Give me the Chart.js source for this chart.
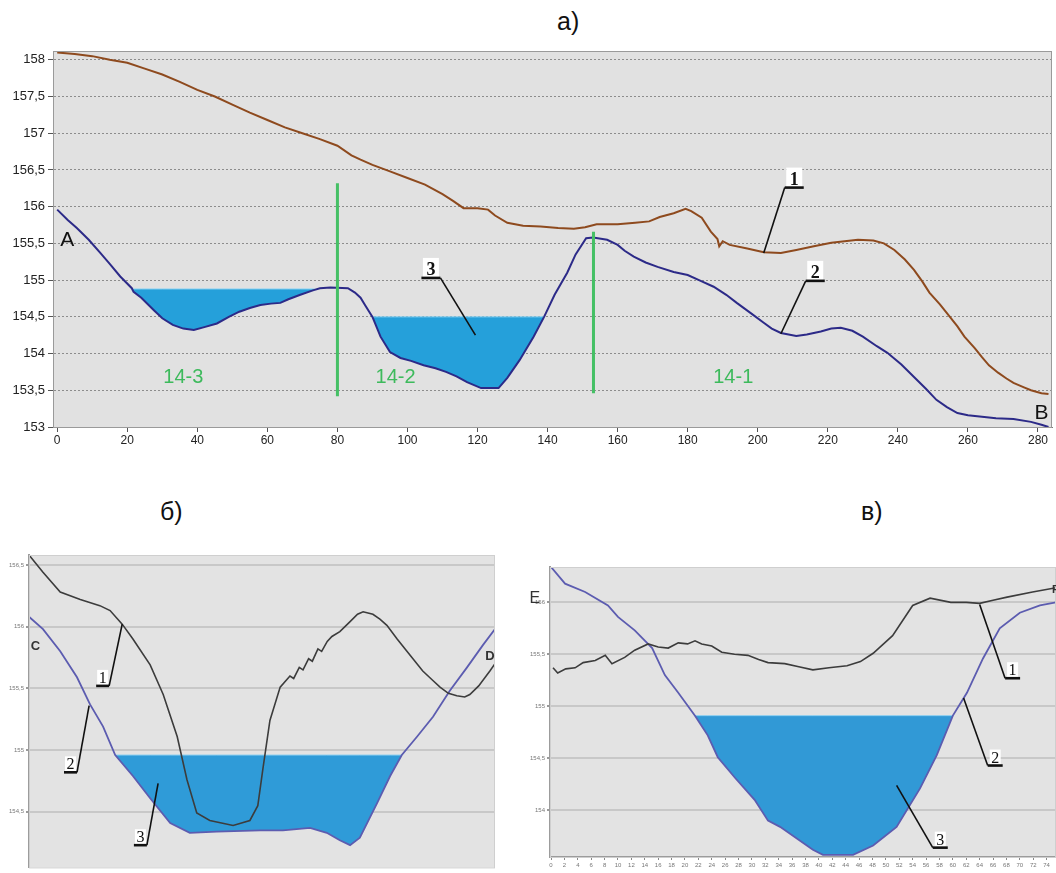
<!DOCTYPE html>
<html>
<head>
<meta charset="utf-8">
<script src="https://cdn.jsdelivr.net/npm/chart.js@4.4.1/dist/chart.umd.min.js"></script>
<style>
body { margin: 0; background: #fff; width: 1056px; height: 873px; overflow: hidden; position: relative; }
.box { position: absolute; }
.ttl { position: absolute; font-family: 'Liberation Sans Narrow', 'Liberation Sans', sans-serif; font-size: 25px; color: #111; }
</style>
</head>
<body>
<div class="ttl" style="left:557px;top:7px">а)</div>
<div class="ttl" style="left:160px;top:497px">б)</div>
<div class="ttl" style="left:861px;top:497px">в)</div>

<div class="box" style="left:0;top:40px;width:1056px;height:405px"><canvas id="chartA"></canvas></div>
<div class="box" style="left:0;top:540px;width:500px;height:333px"><canvas id="chartB"></canvas></div>
<div class="box" style="left:515px;top:555px;width:541px;height:318px"><canvas id="chartC"></canvas></div>

<script>
// ---- а) longitudinal profile ----
const a_xticks = [0, 20, 40, 60, 80, 100, 120, 140, 160, 180, 200, 220, 240, 260, 280];
const a_yticks = [153, 153.5, 154, 154.5, 155, 155.5, 156, 156.5, 157, 157.5, 158];

// line 1 (brown)
const a_line1_x = [0, 5, 10, 15, 20, 25, 30, 35, 40, 45, 50, 55, 60, 65, 70, 75, 80, 84, 86.6, 90, 95, 100, 105, 110, 113, 116, 120, 123, 125, 128.5, 133, 138, 143, 147.5, 150.7, 154, 160, 165, 169, 172, 176, 179.4, 181, 184, 186.6, 188.5, 189, 190, 192, 197, 201.7, 206.6, 211, 216, 221, 228.6, 233, 236, 239, 242, 244.6, 247, 249, 252, 254, 257, 259, 262, 264, 266, 268.6, 271, 273, 276, 278, 281, 283];
const a_line1_y = [158.1, 158.08, 158.05, 158.0, 157.96, 157.88, 157.8, 157.7, 157.59, 157.5, 157.39, 157.28, 157.18, 157.08, 157.0, 156.92, 156.83, 156.7, 156.64, 156.57, 156.48, 156.39, 156.3, 156.17, 156.08, 155.98, 155.98, 155.96, 155.88, 155.78, 155.74, 155.73, 155.71, 155.70, 155.72, 155.76, 155.76, 155.78, 155.80, 155.86, 155.91, 155.97, 155.94, 155.85, 155.66, 155.56, 155.46, 155.53, 155.48, 155.43, 155.38, 155.37, 155.41, 155.46, 155.51, 155.55, 155.54, 155.5, 155.41, 155.28, 155.14, 154.98, 154.83, 154.67, 154.55, 154.37, 154.23, 154.07, 153.95, 153.84, 153.74, 153.66, 153.6, 153.54, 153.5, 153.46, 153.45];

// line 2 (blue)
const a_line2_x = [0, 3, 5.6, 9, 12.3, 15, 18, 21.3, 21.8, 24, 27.6, 30, 33, 36, 39, 42, 45.6, 49, 52, 55, 58, 61, 63.7, 66, 69.4, 73, 75, 78, 83, 85, 86.6, 88, 90, 92.3, 95, 98, 101, 104.6, 108, 111, 114, 117, 121, 126, 128.5, 132, 136, 139, 142, 145.6, 148, 151, 153, 157, 160, 162, 164.6, 168, 171.4, 176, 180, 183.7, 187.4, 191, 194, 198, 201.7, 204, 206.6, 211, 214, 218, 221, 223.7, 227, 230, 234, 237, 241, 244.6, 248, 251, 254, 257, 260, 264, 268, 273, 278, 281, 283];
const a_line2_y = [155.96, 155.82, 155.71, 155.55, 155.37, 155.22, 155.05, 154.89, 154.84, 154.76, 154.59, 154.48, 154.39, 154.34, 154.32, 154.36, 154.41, 154.5, 154.57, 154.62, 154.66, 154.68, 154.69, 154.74, 154.8, 154.86, 154.89, 154.9, 154.89, 154.83, 154.76, 154.65, 154.5, 154.23, 154.02, 153.94, 153.9, 153.84, 153.8, 153.75, 153.69, 153.61, 153.53, 153.53, 153.67, 153.91, 154.23, 154.5, 154.8, 155.1, 155.35, 155.57, 155.58, 155.55, 155.48, 155.4, 155.32, 155.24, 155.18, 155.11, 155.07, 154.99, 154.91, 154.8, 154.69, 154.55, 154.42, 154.34, 154.28, 154.24, 154.26, 154.3, 154.34, 154.35, 154.31, 154.23, 154.1, 154.01, 153.85, 153.68, 153.52, 153.37, 153.27, 153.19, 153.16, 153.14, 153.12, 153.11, 153.07, 153.03, 153.0];

// water (3)
const a_pond_from = [21.3, 90];
const a_pond_to = [73.5, 139];
const a_pond_level = [154.88, 154.5];

// section borders
const a_section_x = [80, 153.1];
const a_section_top = [156.32, 155.66];
const a_section_bottom = [153.42, 153.46];
const a_section_names = ['14-3', '14-2', '14-1'];
const a_section_label_x = [36, 96.6, 193];
const a_section_label_y = [153.67, 153.67, 153.67];

// callouts: joint on the underline, curve point
const a_callout_text = ['1', '2', '3'];
const a_callout_x = [207.7, 213.7, 109.4];
const a_callout_y = [156.26, 154.99, 155.03];
const a_callout_tx = [201.7, 206.6, 119.4];
const a_callout_ty = [155.37, 154.27, 154.25];
const a_callout_dir = [1, 1, -1];

// ---- б) cross section C-D ----
const b_yticks = [154.5, 155, 155.5, 156, 156.5];
const b_line1_x = [0, 3, 6.7, 11, 15.2, 17.4, 20, 22.3, 26, 28.8, 31.8, 33.9, 36, 38.8, 43.8, 47.4, 49.1, 50.2, 51.7, 53.9, 56, 56.8, 58, 58.8, 60, 60.8, 62, 62.8, 64, 65, 66.7, 68.9, 70.5, 71.7, 73.8, 75.3, 76.8, 79, 81.1, 84.5, 86.5, 88.2, 90, 91.8, 93.5, 94.6, 96.5, 98.9, 100];
const b_line1_y = [156.58, 156.44, 156.28, 156.22, 156.17, 156.13, 156.02, 155.9, 155.69, 155.45, 155.11, 154.76, 154.49, 154.43, 154.39, 154.43, 154.55, 154.85, 155.24, 155.51, 155.6, 155.58, 155.67, 155.65, 155.74, 155.72, 155.82, 155.8, 155.88, 155.92, 155.96, 156.04, 156.1, 156.12, 156.1, 156.06, 156.01, 155.9, 155.8, 155.64, 155.57, 155.51, 155.46, 155.44, 155.43, 155.45, 155.52, 155.64, 155.7];
const b_line2_x = [0, 3, 6.7, 10.3, 13.1, 15.9, 18.5, 22.3, 26, 30.3, 34.5, 40.3, 49.6, 54.5, 60.3, 63.9, 66.7, 68.9, 71, 74.7, 77.5, 80, 83.3, 86.7, 90.3, 94, 97.4, 100];
const b_line2_y = [156.08, 155.98, 155.8, 155.59, 155.37, 155.19, 154.96, 154.79, 154.61, 154.41, 154.33, 154.34, 154.35, 154.35, 154.37, 154.33, 154.27, 154.23, 154.29, 154.57, 154.79, 154.96, 155.11, 155.27, 155.48, 155.67, 155.85, 155.98];
const b_pond_from = [18.5];
const b_pond_to = [80];
const b_pond_level = [154.96];
const b_callout_text = ['1', '2', '3'];
const b_callout_x = [17.2, 10.3, 25.3];
const b_callout_y = [155.52, 154.82, 154.23];
const b_callout_tx = [20, 12.9, 27.7];
const b_callout_ty = [156.02, 155.36, 154.73];
const b_callout_dir = [-1, -1, -1];

// ---- в) cross section E-F ----
const c_xticks = [0, 2, 4, 6, 8, 10, 12, 14, 16, 18, 20, 22, 24, 26, 28, 30, 32, 34, 36, 38, 40, 42, 44, 46, 48, 50, 52, 54, 56, 58, 60, 62, 64, 66, 68, 70, 72, 74];
const c_yticks = [154, 154.5, 155, 155.5, 156];
const c_line1_x = [0.3, 1, 2.2, 3.6, 4.8, 6.6, 8.1, 9.1, 11, 12.5, 14.5, 16, 17.5, 19, 20.4, 21.5, 22.5, 24, 25.5, 27.4, 29.4, 31, 32.4, 34.9, 37, 39.1, 41.5, 44.2, 46.2, 48.1, 51, 54, 56.6, 59.7, 62, 64, 66, 68.1, 71.9, 75.4];
const c_line1_y = [155.37, 155.32, 155.36, 155.37, 155.42, 155.44, 155.49, 155.41, 155.47, 155.54, 155.6, 155.57, 155.56, 155.61, 155.6, 155.63, 155.6, 155.58, 155.52, 155.5, 155.49, 155.45, 155.42, 155.41, 155.38, 155.35, 155.37, 155.39, 155.43, 155.51, 155.68, 155.97, 156.04, 156.0, 156.0, 155.99, 156.02, 156.05, 156.1, 156.14];
const c_line2_x = [0, 2.1, 5.1, 8.5, 10, 12.5, 15.1, 17, 19, 21.5, 23.4, 24.9, 27.5, 30.4, 32.4, 34.2, 39.1, 40.6, 45.1, 48.1, 51.6, 55.1, 57.6, 60, 62.1, 64.5, 67, 70, 73, 75.4];
const c_line2_y = [156.34, 156.18, 156.1, 155.97, 155.86, 155.73, 155.56, 155.3, 155.13, 154.91, 154.72, 154.51, 154.31, 154.1, 153.9, 153.84, 153.62, 153.57, 153.57, 153.66, 153.84, 154.21, 154.53, 154.91, 155.13, 155.46, 155.75, 155.9, 155.97, 156.0];
const c_pond_from = [21.5];
const c_pond_to = [60];
const c_pond_level = [154.91];
const c_callout_text = ['1', '2', '3'];
const c_callout_x = [67.8, 65.2, 57.0];
const c_callout_y = [155.27, 154.43, 153.64];
const c_callout_tx = [64.0, 61.6, 51.6];
const c_callout_ty = [155.98, 155.08, 154.24];
const c_callout_dir = [1, 1, 1];

const pts = (xs, ys) => xs.map((x, i) => ({ x: x, y: ys[i] }));
const comma = v => String(v).replace('.', ',');

function pondSets(groundX, from, to, level, target, color, edge) {
    return from.map((f, i) => {
        const d = [{ x: f, y: level[i] }];
        groundX.forEach(x => { if (x > f && x < to[i]) d.push({ x: x, y: level[i] }); });
        d.push({ x: to[i], y: level[i] });
        return { data: d, borderColor: edge, borderWidth: 1, backgroundColor: color, fill: { target: target }, pointRadius: 0 };
    });
}

// background, frame, texts and callouts
function decor(opts) {
    return {
        id: 'decor',
        beforeDraw(chart) {
            const { ctx, chartArea: a } = chart;
            ctx.save();
            ctx.fillStyle = opts.bg;
            ctx.fillRect(a.left, a.top, a.right - a.left, a.bottom - a.top);
            ctx.restore();
        },
        afterDraw(chart) {
            const { ctx, chartArea: a } = chart;
            const xs = chart.scales.x, ys = chart.scales.y;
            ctx.save();
            if (opts.frame) {
                ctx.strokeStyle = opts.frame;
                ctx.lineWidth = 1;
                ctx.strokeRect(a.left + 0.5, a.top + 0.5, a.right - a.left - 1, a.bottom - a.top);
            }
            (opts.texts || []).forEach(t => {
                ctx.font = t.font;
                ctx.fillStyle = t.color;
                ctx.textAlign = 'center';
                ctx.textBaseline = 'middle';
                ctx.fillText(t.text, xs.getPixelForValue(t.x), ys.getPixelForValue(t.y));
            });
            const c = opts.callouts;
            if (c) {
                c.text.forEach((txt, i) => {
                    const jx = xs.getPixelForValue(c.x[i]), jy = ys.getPixelForValue(c.y[i]);
                    const px = xs.getPixelForValue(c.tx[i]), py = ys.getPixelForValue(c.ty[i]);
                    const ex = jx + c.dir[i] * c.len;
                    const mx = (jx + ex) / 2;
                    ctx.fillStyle = '#fff';
                    ctx.fillRect(mx - c.box / 2, jy - c.boxH - 1, c.box, c.boxH);
                    ctx.strokeStyle = '#111';
                    ctx.lineWidth = c.lw;
                    ctx.beginPath();
                    ctx.moveTo(px, py);
                    ctx.lineTo(jx, jy);
                    ctx.stroke();
                    ctx.lineWidth = c.lw + 1;
                    ctx.beginPath();
                    ctx.moveTo(jx, jy);
                    ctx.lineTo(ex, jy);
                    ctx.stroke();
                    ctx.fillStyle = '#111';
                    ctx.font = c.font;
                    ctx.textAlign = 'center';
                    ctx.textBaseline = 'alphabetic';
                    ctx.fillText(txt, mx, jy - 3);
                });
            }
            ctx.restore();
        }
    };
}

Chart.defaults.font.family = "'Liberation Sans', Arial, sans-serif";
Chart.defaults.animation = false;

const base = {
    responsive: true,
    maintainAspectRatio: false,
    plugins: { legend: { display: false }, tooltip: { enabled: false } },
    elements: { line: { tension: 0 }, point: { radius: 0 } }
};

// а)
const aSets = [];
a_section_x.forEach((x, i) => {
    aSets.push({ data: [{ x: x, y: a_section_top[i] }, { x: x, y: a_section_bottom[i] }], borderColor: '#45c065', borderWidth: 3, pointRadius: 0 });
});
aSets.push({ data: pts(a_line1_x, a_line1_y), borderColor: '#8e4a1e', borderWidth: 2, pointRadius: 0 });
const aGround = aSets.length;
aSets.push({ data: pts(a_line2_x, a_line2_y), borderColor: '#2c2a88', borderWidth: 2, pointRadius: 0 });
aSets.push(...pondSets(a_line2_x, a_pond_from, a_pond_to, a_pond_level, aGround, '#25a0da', '#8fd3f2'));

new Chart(document.getElementById('chartA'), {
    type: 'line',
    data: { datasets: aSets },
    options: Object.assign({}, base, {
        layout: { padding: { top: 11, right: 4, left: 0, bottom: 0 } },
        scales: {
            x: {
                type: 'linear', min: -1.2, max: 284,
                afterBuildTicks: s => { s.ticks = a_xticks.map(v => ({ value: v })); },
                afterFit: s => { s.height = 18; },
                grid: { drawOnChartArea: false, drawTicks: true, tickLength: 5, color: '#555' },
                border: { color: '#7a7a7a' },
                ticks: { font: { size: 12 }, color: '#222', maxRotation: 0, autoSkip: false, padding: 1 }
            },
            y: {
                type: 'linear', min: 153, max: 158.12,
                afterBuildTicks: s => { s.ticks = a_yticks.map(v => ({ value: v })); },
                afterFit: s => { s.width = 53; },
                grid: { color: '#8c8c8c', drawTicks: true, tickLength: 5, tickColor: '#555' },
                border: { dash: [2, 2], color: '#7a7a7a' },
                ticks: { font: { size: 13 }, color: '#222', padding: 3, callback: comma }
            }
        }
    }),
    plugins: [decor({
        bg: '#e1e1e1', frame: '#9a9a9a',
        texts: [
            { text: 'A', x: 2.9, y: 155.55, font: '21px "Liberation Sans"', color: '#111' },
            { text: 'B', x: 281, y: 153.19, font: '21px "Liberation Sans"', color: '#111' }
        ].concat(a_section_names.map((n, i) => ({ text: n, x: a_section_label_x[i], y: a_section_label_y[i], font: '20px "Liberation Sans"', color: '#3dba5c' }))),
        callouts: { text: a_callout_text, x: a_callout_x, y: a_callout_y, tx: a_callout_tx, ty: a_callout_ty, dir: a_callout_dir, len: 19, box: 16, boxH: 19, lw: 1.6, font: 'bold 18px "Liberation Serif"' }
    })]
});

// б)
const bSets = [
    { data: pts(b_line1_x, b_line1_y), borderColor: '#3c3c3c', borderWidth: 1.6, pointRadius: 0 },
    { data: pts(b_line2_x, b_line2_y), borderColor: '#5c5cb0', borderWidth: 1.8, pointRadius: 0 }
];
bSets.push(...pondSets(b_line2_x, b_pond_from, b_pond_to, b_pond_level, 1, '#2f9bd8', '#8ccff0'));

new Chart(document.getElementById('chartB'), {
    type: 'line',
    data: { datasets: bSets },
    options: Object.assign({}, base, {
        layout: { padding: { top: 15, right: 5, left: 0, bottom: 0 } },
        scales: {
            x: { type: 'linear', min: 0, max: 100, display: false },
            y: {
                type: 'linear', min: 154.05, max: 156.58,
                afterBuildTicks: s => { s.ticks = b_yticks.map(v => ({ value: v })); },
                afterFit: s => { s.width = 29; },
                grid: { color: '#c8c8c8', lineWidth: 2, drawTicks: true, tickLength: 3, tickColor: '#999' },
                border: { color: '#9c9c9c', width: 2 },
                ticks: { font: { size: 6 }, color: '#777', padding: 2, callback: comma }
            }
        }
    }),
    plugins: [decor({
        bg: '#e3e3e3', frame: '#cfcfcf',
        texts: [
            { text: 'C', x: 1.4, y: 155.84, font: 'bold 13px "Liberation Sans"', color: '#333' },
            { text: 'D', x: 98.9, y: 155.76, font: 'bold 13px "Liberation Sans"', color: '#333' }
        ],
        callouts: { text: b_callout_text, x: b_callout_x, y: b_callout_y, tx: b_callout_tx, ty: b_callout_ty, dir: b_callout_dir, len: 13, box: 11, boxH: 15, lw: 1.6, font: '16px "Liberation Serif"' }
    })]
});

// в)
const cSets = [
    { data: pts(c_line1_x, c_line1_y), borderColor: '#3c3c3c', borderWidth: 1.6, pointRadius: 0 },
    { data: pts(c_line2_x, c_line2_y), borderColor: '#5c5cb0', borderWidth: 1.8, pointRadius: 0 }
];
cSets.push(...pondSets(c_line2_x, c_pond_from, c_pond_to, c_pond_level, 1, '#3199d6', '#8ccff0'));

new Chart(document.getElementById('chartC'), {
    type: 'line',
    data: { datasets: cSets },
    options: Object.assign({}, base, {
        layout: { padding: { top: 12, right: 0, left: 0, bottom: 0 } },
        scales: {
            x: {
                type: 'linear', min: -0.15, max: 75.4,
                afterBuildTicks: s => { s.ticks = c_xticks.map(v => ({ value: v })); },
                afterFit: s => { s.height = 16; },
                grid: { drawOnChartArea: false, drawTicks: true, tickLength: 3, color: '#888' },
                border: { color: '#9c9c9c', width: 2 },
                ticks: { font: { size: 6 }, color: '#777', maxRotation: 0, autoSkip: false, padding: 2 }
            },
            y: {
                type: 'linear', min: 153.55, max: 156.34,
                afterBuildTicks: s => { s.ticks = c_yticks.map(v => ({ value: v })); },
                afterFit: s => { s.width = 35; },
                grid: { color: '#c8c8c8', lineWidth: 2, drawTicks: true, tickLength: 3, tickColor: '#999' },
                border: { color: '#9c9c9c', width: 2 },
                ticks: { font: { size: 6 }, color: '#777', padding: 2, callback: comma }
            }
        }
    }),
    plugins: [decor({
        bg: '#e3e3e3', frame: '#cfcfcf',
        texts: [
            { text: 'E', x: -2.4, y: 156.04, font: '16px "Liberation Sans"', color: '#333' },
            { text: 'F', x: 75.3, y: 156.12, font: 'bold 11px "Liberation Sans"', color: '#333' }
        ],
        callouts: { text: c_callout_text, x: c_callout_x, y: c_callout_y, tx: c_callout_tx, ty: c_callout_ty, dir: c_callout_dir, len: 15, box: 11, boxH: 15, lw: 1.6, font: '16px "Liberation Serif"' }
    })]
});
</script>
</body>
</html>
